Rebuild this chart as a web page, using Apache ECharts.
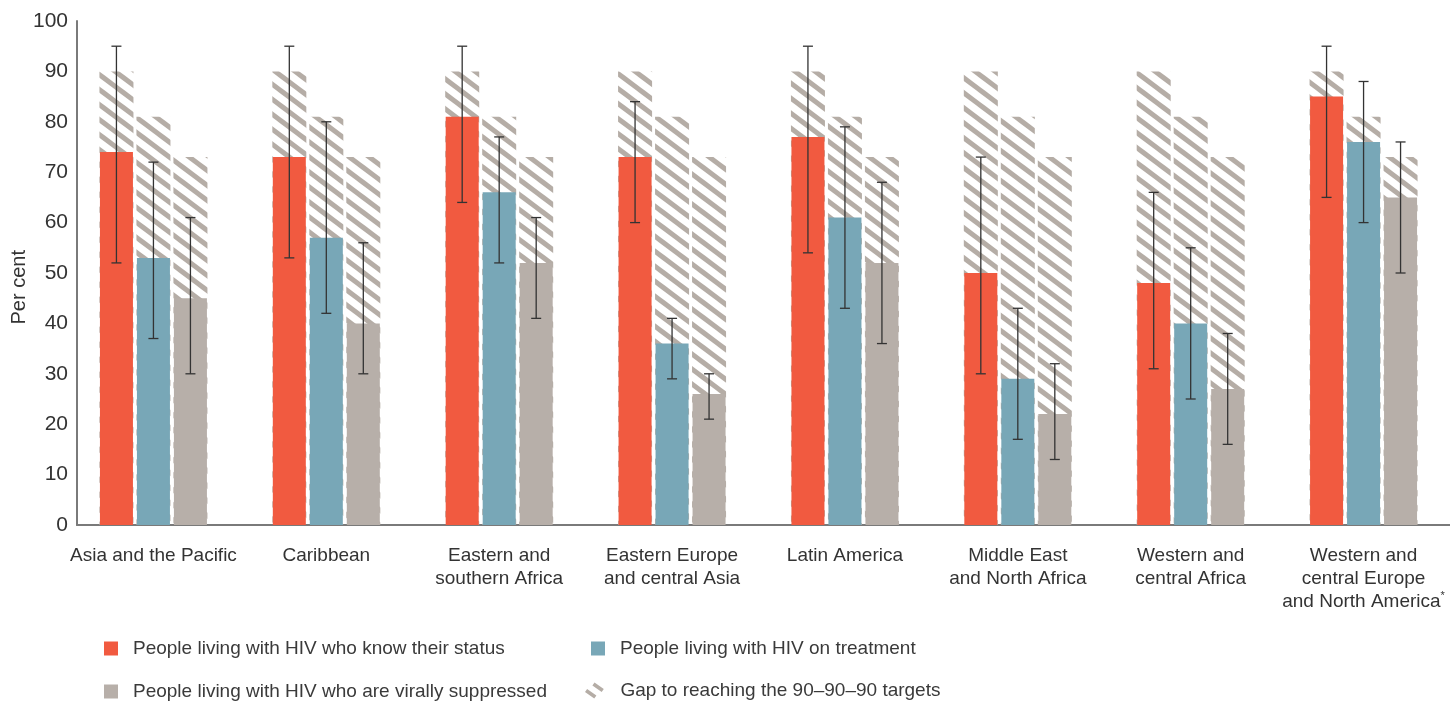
<!DOCTYPE html>
<html>
<head>
<meta charset="utf-8">
<script src="https://cdn.jsdelivr.net/npm/echarts@6/dist/echarts.min.js"></script>
<style>
  html, body { margin: 0; padding: 0; background: #ffffff; }
  #chart { width: 1450px; height: 701px; }
</style>
</head>
<body>
<div id="chart"></div>
<script>
// ---------- data ----------
const categories = [
  'Asia and the Pacific',
  'Caribbean',
  'Eastern and\nsouthern Africa',
  'Eastern Europe\nand central Asia',
  'Latin America',
  'Middle East\nand North Africa',
  'Western and\ncentral Africa',
  'Western and\ncentral Europe\nand North America*'
];
const knowStatus     = [74, 73, 81, 73, 77, 50, 48, 85];
const knowLow        = [52, 53, 64, 60, 54, 30, 31, 65];
const knowHigh       = [95, 95, 95, 84, 95, 73, 66, 95];
const onTreatment    = [53, 57, 66, 36, 61, 29, 40, 76];
const treatLow       = [37, 42, 52, 29, 43, 17, 25, 60];
const treatHigh      = [72, 80, 77, 41, 79, 43, 55, 88];
const suppressed     = [45, 40, 52, 26, 52, 22, 27, 65];
const suppLow        = [30, 30, 41, 21, 36, 13, 16, 50];
const suppHigh       = [61, 56, 61, 30, 68, 32, 38, 76];
const targets        = [90, 81, 73];
const yTicks         = [0, 10, 20, 30, 40, 50, 60, 70, 80, 90, 100];
const seriesNames = [
  'People living with HIV who know their status',
  'People living with HIV on treatment',
  'People living with HIV who are virally suppressed',
  'Gap to reaching the 90–90–90 targets'
];

// ---------- styles ----------
const RED = '#f15a40', BLUE = '#78a7b7', GREY = '#b7afa9', HATCH = '#b5ada6';
const FONT = '"Liberation Sans", Arial, sans-serif';
const BAR_W = 33, BAR_STEP = 37;
const GRID_TOP = 21, GRID_BOTTOM = 176;

function makeHatch() {
  const c = document.createElement('canvas');
  c.width = 20; c.height = 15;
  const ctx = c.getContext('2d');
  ctx.strokeStyle = HATCH;
  ctx.lineWidth = 5;
  [-15, 0, 15].forEach(k => {
    ctx.beginPath();
    ctx.moveTo(-5, k - 3.75);
    ctx.lineTo(25, k + 18.75);
    ctx.stroke();
  });
  return c;
}
const hatchPattern = { image: makeHatch(), repeat: 'repeat' };

const chart = echarts.init(document.getElementById('chart'), null, { renderer: 'canvas' });

function errorSeries(name, low, high, idx) {
  const data = categories.map((c, i) => [i, low[i], high[i]]);
  return {
    type: 'custom',
    name: name + ' range',
    xAxisIndex: 0, yAxisIndex: 0,
    z: 10,
    silent: true,
    encode: { x: 0, y: [1, 2] },
    data: data,
    renderItem: function (params, api) {
      const ci = api.value(0);
      const hi = api.coord([ci, api.value(2)]);
      const lo = api.coord([ci, api.value(1)]);
      const x = hi[0] + (idx - 1) * BAR_STEP;
      const cap = 5;
      const style = { stroke: '#333333', lineWidth: 1.3, fill: null };
      return {
        type: 'group',
        children: [
          { type: 'line', shape: { x1: x, y1: hi[1], x2: x, y2: lo[1] }, style: style },
          { type: 'line', shape: { x1: x - cap, y1: hi[1], x2: x + cap, y2: hi[1] }, style: style },
          { type: 'line', shape: { x1: x - cap, y1: lo[1], x2: x + cap, y2: lo[1] }, style: style }
        ]
      };
    }
  };
}

const hatchSeries = targets.map((t, k) => ({
  type: 'bar',
  name: k === 0 ? seriesNames[3] : seriesNames[3] + ' ' + (k + 1),
  xAxisIndex: 1, yAxisIndex: 0,
  barWidth: 34,
  barGap: (3 / 34 * 100).toFixed(1) + '%',
  z: 1,
  silent: true,
  itemStyle: { color: hatchPattern },
  data: categories.map(() => t)
}));

const legendBase = {
  orient: 'horizontal',
  padding: 0,
  itemWidth: 14, itemHeight: 14,
  selectedMode: false,
  textStyle: { fontFamily: FONT, fontSize: 19, color: '#3a3a3a', padding: [0, 0, 0, 10] }
};

const option = {
  animation: false,
  backgroundColor: '#ffffff',
  grid: [
    { left: 67, right: -9, top: GRID_TOP, bottom: GRID_BOTTOM, containLabel: false },
    { left: 77, right: 0, top: GRID_TOP, bottom: GRID_BOTTOM, containLabel: false }
  ],
  xAxis: [
    {
      type: 'category', gridIndex: 0, data: categories,
      axisLine: { show: false }, axisTick: { show: false },
      axisLabel: {
        interval: 0, margin: 19,
        fontFamily: FONT, fontSize: 19, color: '#333333', lineHeight: 23,
        formatter: v => v.replace('*', '{sup|*}'),
        rich: { sup: { fontSize: 11, verticalAlign: 'top', color: '#333333', padding: [0, 0, 8, 0] } }
      }
    },
    {
      type: 'category', gridIndex: 0, data: categories, show: false
    },
    {
      type: 'value', gridIndex: 1, min: 0, max: 1,
      axisLine: { show: true, onZero: false, lineStyle: { color: '#7a7a7a', width: 2 } },
      axisTick: { show: false }, axisLabel: { show: false }, splitLine: { show: false }
    }
  ],
  yAxis: [
    {
      type: 'value', gridIndex: 0, min: 0, max: 100, interval: 10, show: false,
      splitLine: { show: false }
    },
    {
      type: 'value', gridIndex: 1, min: 0, max: 100, interval: 10,
      axisLine: { show: true, lineStyle: { color: '#7a7a7a', width: 2 } },
      axisTick: { show: false },
      splitLine: { show: false },
      axisLabel: {
        margin: 9, fontFamily: FONT, fontSize: 21, color: '#333333',
        formatter: v => (yTicks.indexOf(v) >= 0 ? String(v) : '')
      }
    }
  ],
  legend: [
    Object.assign({}, legendBase, { left: 104, top: 639, data: [{ name: seriesNames[0], icon: 'rect' }] }),
    Object.assign({}, legendBase, { left: 591, top: 639, data: [{ name: seriesNames[1], icon: 'rect' }] }),
    Object.assign({}, legendBase, { left: 104, top: 682, data: [{ name: seriesNames[2], icon: 'rect' }] }),
    Object.assign({}, legendBase, {
      left: 585, top: 681, itemWidth: 22, itemHeight: 16,
      data: [{
        name: seriesNames[3],
        icon: 'path://M12.15,1.36 L22.15,8.36 L19.85,11.64 L9.85,4.64 Z M4.15,8.36 L14.15,15.36 L11.85,18.64 L1.85,11.64 Z',
        itemStyle: { color: HATCH }
      }]
    })
  ],
  graphic: [
    {
      type: 'text', left: 9, top: 250, rotation: Math.PI / 2,
      style: { text: 'Per cent', fontFamily: FONT, fontSize: 20, fill: '#333333' }
    }
  ],
  series: [
    ...hatchSeries,
    {
      type: 'bar', name: seriesNames[0], xAxisIndex: 0, yAxisIndex: 0,
      barWidth: BAR_W, barGap: ((BAR_STEP - BAR_W) / BAR_W * 100).toFixed(1) + '%',
      z: 5, itemStyle: { color: RED }, data: knowStatus
    },
    {
      type: 'bar', name: seriesNames[1], xAxisIndex: 0, yAxisIndex: 0,
      barWidth: BAR_W, z: 5, itemStyle: { color: BLUE }, data: onTreatment
    },
    {
      type: 'bar', name: seriesNames[2], xAxisIndex: 0, yAxisIndex: 0,
      barWidth: BAR_W, z: 5, itemStyle: { color: GREY }, data: suppressed
    },
    errorSeries(seriesNames[0], knowLow, knowHigh, 0),
    errorSeries(seriesNames[1], treatLow, treatHigh, 1),
    errorSeries(seriesNames[2], suppLow, suppHigh, 2)
  ]
};

chart.setOption(option);
</script>
</body>
</html>
